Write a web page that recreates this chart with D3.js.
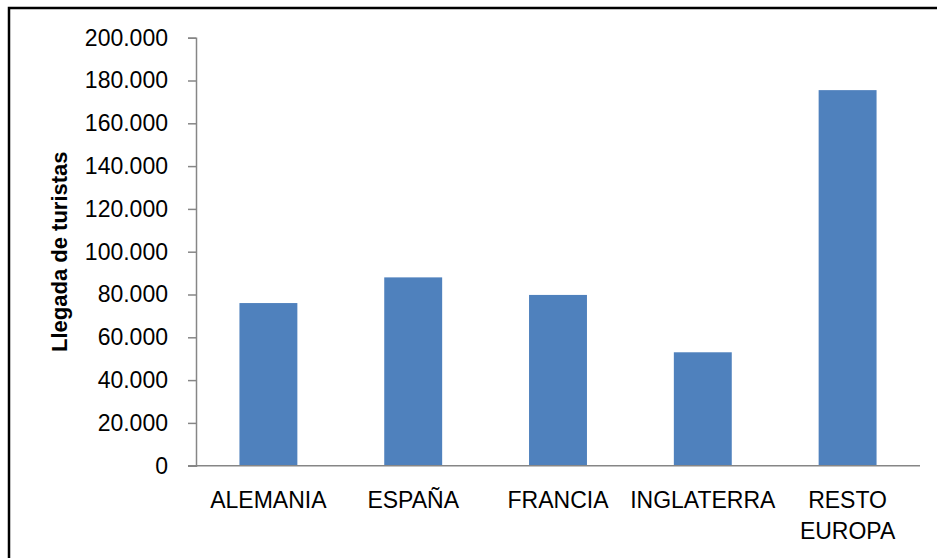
<!DOCTYPE html>
<html>
<head>
<meta charset="utf-8">
<script src="https://cdn.jsdelivr.net/npm/d3@7"></script>
<style>
  body { margin: 0; background: #fff; }
  svg { display: block; font-family: "Liberation Sans", Arial, sans-serif; }
</style>
</head>
<body>
<svg id="chart" width="937" height="558"></svg>
<script>
// chart data
var categories = [["ALEMANIA"], ["ESPAÑA"], ["FRANCIA"], ["INGLATERRA"], ["RESTO", "EUROPA"]];
var arrivals = [76000, 88000, 79800, 53000, 175500];
var yTicks = [0, 20000, 40000, 60000, 80000, 100000, 120000, 140000, 160000, 180000, 200000];
var yTitle = "Llegada de turistas";

var svg = d3.select("#chart");

// outer frame (right/bottom edges fall outside the picture)
svg.append("rect")
    .attr("x", 9).attr("y", 8)
    .attr("width", 960).attr("height", 600)
    .attr("fill", "none")
    .attr("stroke", "#000")
    .attr("stroke-width", 2.5);

// plot area edges
var plotLeft = 196, plotRight = 920, plotTop = 37.7, plotBottom = 465.7;

var x = d3.scaleBand()
    .domain(d3.range(categories.length))
    .range([plotLeft, plotRight])
    .paddingInner(0.6)
    .paddingOuter(0.3);

var y = d3.scaleLinear()
    .domain([0, 200000])
    .range([plotBottom, plotTop]);

var es = d3.formatLocale({decimal: ",", thousands: ".", grouping: [3], currency: ["", ""]});
var fmt = es.format(",");

// bars
svg.append("g")
    .selectAll("rect")
    .data(arrivals)
    .enter()
    .append("rect")
        .attr("x", function(d, i) { return x(i); })
        .attr("y", function(d) { return y(d); })
        .attr("width", x.bandwidth())
        .attr("height", function(d) { return plotBottom - y(d); })
        .attr("fill", "#4F81BD");

// y axis
var yAxis = svg.append("g")
    .attr("transform", "translate(" + plotLeft + ",0)")
    .call(d3.axisLeft(y).tickValues(yTicks).tickSize(8).tickPadding(20).tickFormat(fmt));
yAxis.select(".domain").attr("stroke", "#868686").attr("stroke-width", 1.5);
yAxis.selectAll(".tick line").attr("stroke", "#868686").attr("stroke-width", 1.5);
yAxis.selectAll(".tick text")
    .attr("font-family", "'Liberation Sans', Arial, sans-serif")
    .attr("font-size", 23)
    .attr("fill", "#000");

// x axis line
svg.append("line")
    .attr("x1", plotLeft - 8).attr("x2", plotRight)
    .attr("y1", plotBottom).attr("y2", plotBottom)
    .attr("stroke", "#868686")
    .attr("stroke-width", 1.5);

// category labels (may wrap on two lines)
var labels = svg.append("g")
    .selectAll("text")
    .data(categories)
    .enter()
    .append("text")
        .attr("text-anchor", "middle")
        .attr("font-size", 23)
        .attr("fill", "#000");
labels.selectAll("tspan")
    .data(function(d, i) { return d.map(function(s) { return {s: s, i: i}; }); })
    .enter()
    .append("tspan")
        .attr("x", function(d) { return x(d.i) + x.bandwidth() / 2; })
        .attr("y", function(d, j) { return 508 + j * 31; })
        .text(function(d) { return d.s; });

// y axis title
svg.append("text")
    .attr("transform", "translate(67," + ((plotTop + plotBottom) / 2) + ") rotate(-90)")
    .attr("text-anchor", "middle")
    .attr("font-size", 22)
    .attr("font-weight", "bold")
    .attr("fill", "#000")
    .text(yTitle);
</script>
</body>
</html>
